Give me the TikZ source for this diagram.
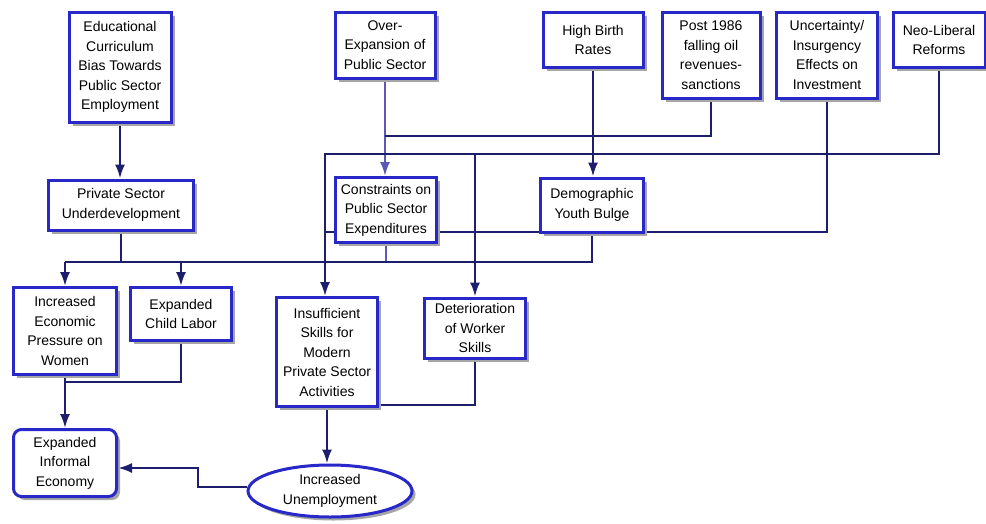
\documentclass[tikz,border=0pt]{standalone}
\usepackage{tikz}
\usepackage{fontspec}
\setmainfont{Liberation Sans}
\usetikzlibrary{arrows.meta,shapes.geometric,shadows}
\definecolor{boxblue}{RGB}{40,40,200}
\definecolor{linenavy}{RGB}{30,30,110}
\definecolor{linepale}{RGB}{90,90,180}
\pgfdeclarelayer{background}
\pgfsetlayers{background,main}
\tikzset{
  box/.style={draw=boxblue,line width=3pt,fill=white,align=center,inner sep=1pt,
    font=\fontsize{14}{19.5}\selectfont,
    drop shadow={shadow xshift=3.5pt,shadow yshift=-3.5pt,fill=black!35,opacity=1}},
  link/.style={draw=linenavy,line width=2.2pt},
  arr/.style={link,-{Latex[length=14pt,width=10pt]}}
}

\begin{document}
\begin{tikzpicture}[x=1pt,y=-1pt]
    \useasboundingbox (0,0) rectangle (986,523);
                        % causes, top row
                        \node (edu) at (120,67) [box,minimum width=102,minimum height=110] {Educational\\Curriculum\\Bias Towards\\Public Sector\\Employment};
                        \node (over) at (385,45) [box,minimum width=100,minimum height=66] {Over-\\Expansion of\\Public Sector};
                        \node (hbr) at (593,40) [box,minimum width=100,minimum height=55] {High Birth\\Rates};
                        \node (oil) at (711,55) [box,minimum width=98,minimum height=86] {Post 1986\\falling oil\\revenues-\\sanctions};
                        \node (unc) at (827,55) [box,minimum width=101,minimum height=86] {Uncertainty/\\Insurgency\\Effects on\\Investment};
                        \node (neo) at (939,40) [box,minimum width=92,minimum height=55] {Neo-Liberal\\Reforms};

                        % middle row
                        \node (psu) at (121,205) [box,minimum width=145,minimum height=50] {Private Sector\\Underdevelopment};
                        \node (cps) at (386,210) [box,minimum width=101,minimum height=65] {Constraints on\\Public Sector\\Expenditures};
                        \node (dyb) at (592,205) [box,minimum width=103,minimum height=54] {Demographic\\Youth Bulge};

                        % effects
                        \node (iep) at (65,331) [box,minimum width=103,minimum height=87] {Increased\\Economic\\Pressure on\\Women};
                        \node (ecl) at (181,314) [box,minimum width=101,minimum height=53] {Expanded\\Child Labor};
                        \node (ism) at (327,352) [box,minimum width=101,minimum height=109] {Insufficient\\Skills for\\Modern\\Private Sector\\Activities};
                        \node (dws) at (475,328) [box,minimum width=101,minimum height=60] {Deterioration\\of Worker\\Skills};
                        \node (eie) at (65,463) [box,rounded corners=8pt,minimum width=103,minimum height=67] {Expanded\\Informal\\Economy};
                        \node (iu) at (330,491) [box,ellipse,inner sep=0pt,minimum width=164,minimum height=52] {Increased\\Unemployment};

                        \coordinate (oj) at (385,136);
                        \coordinate (nj) at (325,154);
                        \coordinate (uj) at (325,232);
                        \coordinate (bus) at (65,262);
                        \coordinate (cj) at (65,382);
                        \coordinate (dj) at (378,405);
                        \coordinate (ij) at (198,468);

    \begin{pgfonlayer}{background}
                    \draw[arr] (edu.south) -- (edu.south |- psu.north);
                    \draw[arr,draw=linepale] (over.south) -- (over.south |- cps.north);
                    \draw[link] (oil.south) |- (oj);
                    \draw[arr] (hbr.south) -- (hbr.south |- dyb.north);
                    \draw[arr] (neo.south) |- (nj) -- (nj |- ism.north);
                    \draw[arr] (dws.north |- nj) -- (dws.north);
                    \draw[link] (unc.south) |- (uj);
                    \draw[link] (psu.south) -- (psu.south |- bus);
                    \draw[link,draw=linepale] (cps.south) -- (cps.south |- bus);
                    \draw[link] (dyb.south) |- (bus);
                    \draw[arr] (bus) -- (iep.north);
                    \draw[arr] (ecl.north |- bus) -- (ecl.north);
                    \draw[arr] (iep.south) -- (eie.north);
                    \draw[link] (ecl.south) |- (cj);
                    \draw[arr] (ism.south) -- (ism.south |- iu.north);
                    \draw[link] (dws.south) |- (dj);
                    \draw[arr] ([yshift=4pt]iu.west) -| (ij) -- (eie.east |- ij);
    \end{pgfonlayer}
\end{tikzpicture}
\end{document}
